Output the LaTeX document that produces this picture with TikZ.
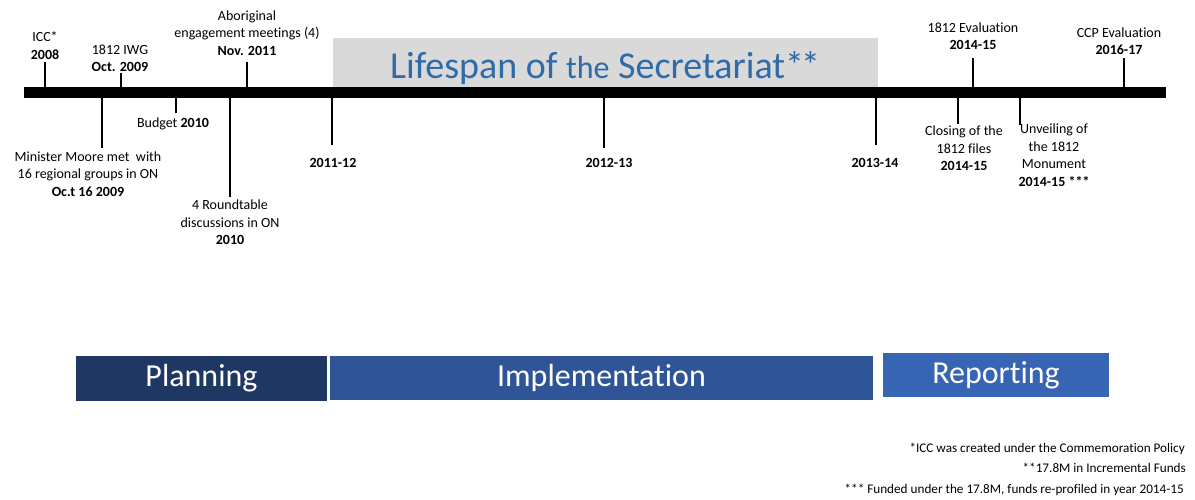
\documentclass[tikz,border=0pt]{standalone}
\usepackage{fontspec}
\setmainfont{Carlito}[Ligatures=NoCommon]
\definecolor{lifegray}{HTML}{D9D9D9}
\definecolor{titleblue}{HTML}{2E6BA8}
\definecolor{planblue}{HTML}{1F3763}
\definecolor{implblue}{HTML}{2F5597}
\definecolor{repblue}{HTML}{3864B4}
\begin{document}
\begin{tikzpicture}[x=1pt,y=-1pt,
  lbl/.style={font=\fontsize{14}{17.5}\selectfont, align=center, inner sep=0pt},
  tick/.style={line width=1.6pt, black},
  phase/.style={font=\fontsize{32}{38}\selectfont, text=white, inner sep=0pt},
  note/.style={font=\fontsize{13.2}{16}\selectfont, anchor=east, inner sep=0pt}]
\useasboundingbox (0,0) rectangle (1195,499);
% title band and bar
\node (lifebox) [fill=lifegray, minimum width=545pt, minimum height=49pt, inner sep=0pt] at (605.5,62.5) {};
\node (title) [anchor=base, text=titleblue, inner sep=0pt] at (605,78)
  {\fontsize{38}{40}\selectfont Lifespan of {\fontsize{32}{34}\selectfont the} Secretariat*\kern-.08em*};
\node (bar) [fill=black, minimum width=1142pt, minimum height=11pt, inner sep=0pt] at (595,92.5) {};
% tick end points
\coordinate (iccT) at (45,62);
\coordinate (iwgT) at (121,73);
\coordinate (abT) at (247,62);
\coordinate (evT) at (973,58);
\coordinate (ccpT) at (1124,58);
\coordinate (minB) at (102,148);
\coordinate (budB) at (176,113);
\coordinate (rtB) at (230,197);
\coordinate (y1B) at (332,145);
\coordinate (y2B) at (604,148);
\coordinate (y3B) at (876,145);
\coordinate (clB) at (958,124);
\coordinate (unB) at (1020,125);
\foreach \c in {iccT,iwgT,abT,evT,ccpT}{\draw[tick] (\c) -- (\c |- bar.north);}
\foreach \c in {minB,budB,rtB,y1B,y2B,y3B,clB,unB}{\draw[tick] (\c) -- (\c |- bar.south);}
% labels above
\node[lbl] (icc) at (45,45.5) {ICC*\\\textbf{2008}};
\node[lbl] (iwg) at (120,58.5) {1812 IWG\\\textbf{Oct. 2009}};
\node[lbl] (ab) at (247,33) {Aboriginal\\engagement meetings (4)\\\textbf{Nov. 2011}};
\node[lbl] (ev) at (973,36) {1812 Evaluation\\\textbf{2014-15}};
\node[lbl] (ccp) at (1119,41) {CCP Evaluation\\\textbf{2016-17}};
% labels below
\node[lbl] (min) at (88,174) {Minister Moore met\ \ with\\16 regional groups in ON\\\textbf{Oc.t 16 2009}};
\node[lbl] (bud) at (173,124) {Budget \textbf{2010}};
\node[lbl] (rt) at (230,222.5) {4 Roundtable\\discussions in ON\\\textbf{2010}};
\node[lbl] (y1) at (333,163) {\textbf{2011-12}};
\node[lbl] (y2) at (609,163) {\textbf{2012-13}};
\node[lbl] (y3) at (875,163) {\textbf{2013-14}};
\node[lbl] (cl) at (964,148.5) {Closing of the\\1812 files\\\textbf{2014-15}};
\node[lbl] (un) at (1054,155) {Unveiling of\\the 1812\\Monument\\\textbf{2014-15 ***}};
% phases
\node[phase, fill=planblue, minimum width=251pt, minimum height=45pt] (plan) at (201.5,378.5) {Planning};
\node[phase, fill=implblue, minimum width=543pt, minimum height=44pt] (impl) at (601.5,378) {Implementation};
\node[phase, fill=repblue, minimum width=226pt, minimum height=44pt] (rep) at (996,375) {Reporting};
% notes
\node[note] (n1) at (1185,449) {*ICC was created under the Commemoration Policy};
\node[note] (n2) at (1186,468) {**17.8M in Incremental Funds};
\node[note] (n3) at (1184,490) {*** Funded under the 17.8M, funds re-profiled in year 2014-15};
\end{tikzpicture}
\end{document}
